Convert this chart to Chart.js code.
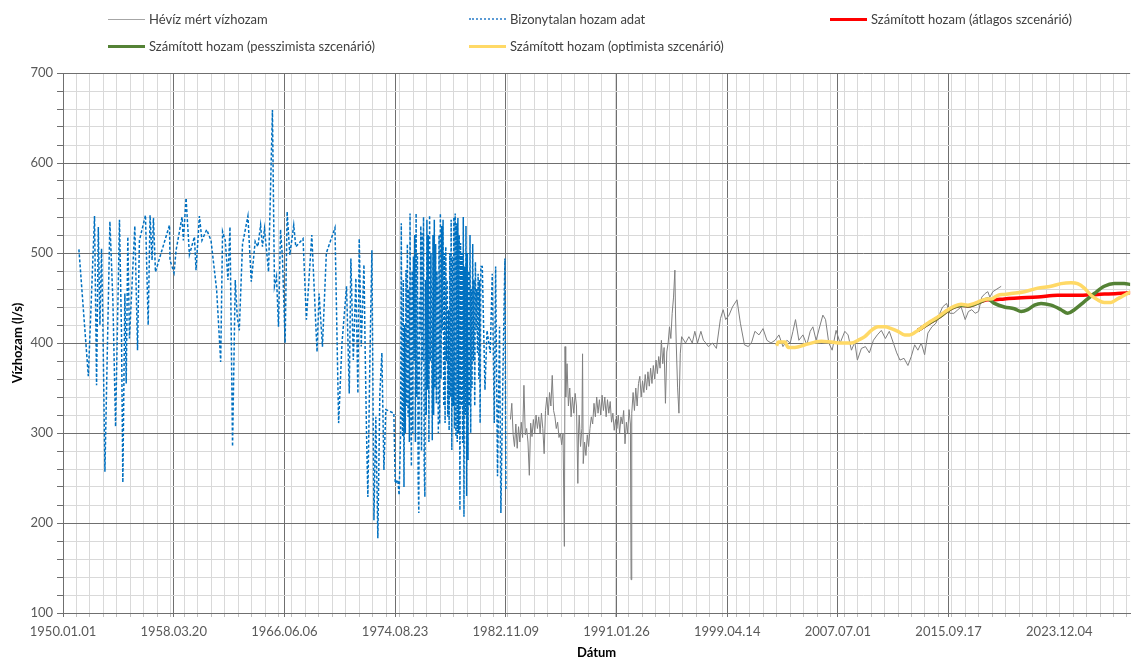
<!DOCTYPE html>
<html>
<head>
<meta charset="utf-8">
<script src="https://cdn.jsdelivr.net/npm/chart.js@4.4.1/dist/chart.umd.min.js"></script>
<style>
  body { margin:0; background:#fff; }
  #wrap { position:relative; width:1134px; height:659px; font-family:Lato, "Liberation Sans", sans-serif; }
  #c { position:absolute; left:0; top:0; }
  .lg { position:absolute; display:flex; align-items:center; font-size:13px; color:#404040; white-space:nowrap; }
  .lg i { display:inline-block; width:37px; margin-right:4px; }
</style>
</head>
<body>
<div id="wrap">
  <canvas id="c" width="1134" height="659"></canvas>
  <div id="legend"></div>
</div>
<script>
// uncertain data (blue dotted) - decimal years / l/s
var blueYears = [1951.18,1951.88,1952.34,1952.49,1952.62,1952.74,1952.86,1952.96,1953.11,1953.48,1953.70,1953.90,1954.19,1954.34,1954.44,1954.59,1954.69,1954.81,1954.93,1955.33,1955.53,1955.67,1956.12,1956.32,1956.46,1956.61,1956.71,1956.86,1957.90,1957.94,1958.24,1958.39,1958.83,1958.93,1959.13,1959.38,1959.75,1959.87,1960.12,1960.31,1960.66,1960.98,1961.40,1961.70,1961.84,1962.04,1962.24,1962.39,1962.58,1962.78,1962.93,1963.08,1963.32,1963.72,1963.97,1964.26,1964.46,1964.66,1964.80,1964.95,1965.25,1965.54,1965.69,1965.84,1965.99,1966.14,1966.28,1966.48,1966.63,1966.83,1967.12,1967.27,1967.81,1968.06,1968.46,1968.85,1969.00,1969.25,1969.54,1970.18,
  1970.45,1970.70,1971.04,1971.24,1971.36,1971.54,1971.73,1971.88,1971.98,1972.13,1972.33,1972.42,1972.52,1972.62,1972.77,1972.92,1973.07,1973.21,1973.36,1973.51,1973.66,1973.81,1973.95,1974.55,1974.65,1974.84,1974.94,
  1975.05,1975.10,1975.15,1975.20,1975.25,1975.30,1975.35,1975.40,1975.45,1975.50,1975.55,1975.60,1975.65,1975.70,1975.75,1975.80,1975.85,1975.90,1975.95,1976.00,1976.05,1976.10,1976.15,1976.20,1976.25,1976.30,1976.35,1976.40,1976.45,1976.50,1976.55,1976.60,1976.65,1976.70,1976.75,1976.80,1976.85,1976.90,1976.95,1977.00,1977.05,1977.10,1977.15,1977.20,1977.25,1977.30,1977.35,1977.40,1977.45,1977.50,1977.55,1977.60,1977.65,1977.70,1977.75,1977.80,1977.85,1977.90,1977.95,1978.00,1978.05,1978.10,1978.15,1978.20,1978.25,1978.30,1978.35,1978.40,1978.45,1978.50,1978.55,1978.60,1978.65,1978.70,1978.75,1978.80,1978.85,1978.90,1978.95,1979.00,1979.05,1979.10,1979.15,1979.20,1979.25,1979.30,1979.35,1979.40,1979.45,1979.50,1979.55,1979.60,1979.65,1979.70,1979.75,1979.80,1979.85,1979.90,1979.95,1980.00,1980.05,1980.10,1980.15,1980.20,1980.25,1980.30,1980.35,1980.40,1980.45,1980.50,1980.55,1980.60,1980.65,1980.70,1980.75,1980.80,1980.85,1980.90,1980.95,1981.00,
  1981.11,1981.31,1981.46,1981.70,1981.85,1982.00,1982.10,1982.24,1982.39,1982.49,1982.64,1982.79,1982.86];
var blueVals = [504,363,541,353,529,420,505,420,257,535,448,307,537,411,245,455,355,518,405,530,392,514,542,420,542,492,539,479,531,492,478,503,540,514,561,498,518,481,541,514,526,514,459,379,524,514,470,529,285,470,429,414,510,541,468,513,507,531,507,527,479,659,463,474,418,526,496,400,546,498,531,507,516,426,520,390,455,396,500,528,
  311,400,463,344,494,381,472,344,516,396,487,392,300,229,381,503,203,318,183,344,389,259,326,322,244,248,231,
  300,533,320,296,470,240,420,300,481,330,510,318,460,290,544,350,263,480,300,496,380,520,290,544,340,500,250,211,450,411,530,280,522,380,540,260,229,470,320,537,348,520,290,542,380,500,414,292,520,320,537,350,510,333,480,437,300,520,310,544,360,530,414,537,330,500,311,507,380,470,318,437,303,500,340,537,281,496,330,540,305,544,296,533,290,539,300,520,214,511,330,500,289,540,207,485,320,530,230,500,270,480,330,520,300,460,350,510,380,470,330,490,414,460,389,477,360,470,311,485,
  485,348,414,389,477,311,485,252,418,211,363,494,237];

// measured discharge (grey)
var grayYears = [1983.20,1983.30,1983.40,1983.50,1983.60,1983.70,1983.80,1983.90,1984.00,1984.10,1984.20,1984.30,1984.40,1984.50,1984.60,1984.70,1984.80,1984.90,1985.00,1985.10,1985.20,1985.30,1985.40,1985.50,1985.60,1985.70,1985.80,1985.90,1986.00,1986.10,1986.20,1986.30,1986.40,1986.50,1986.60,1986.70,1986.80,1986.90,1987.00,1987.10,1987.20,1987.25,1987.30,1987.40,1987.50,1987.60,1987.70,1987.80,1987.90,1988.00,1988.10,1988.20,1988.25,1988.30,1988.40,1988.50,1988.55,1988.60,1988.70,1988.80,1988.90,1989.00,1989.10,1989.20,1989.30,1989.40,1989.50,1989.60,1989.70,1989.80,1989.90,1990.00,1990.10,1990.20,1990.30,1990.40,1990.50,1990.60,1990.70,1990.80,1990.90,1991.00,1991.10,1991.20,1991.30,1991.40,1991.50,1991.60,1991.70,1991.80,1991.90,1992.00,1992.10,1992.15,1992.20,1992.30,1992.40,1992.50,1992.60,1992.70,1992.80,1992.90,1993.00,1993.10,1993.20,1993.30,1993.40,1993.50,1993.60,1993.70,1993.80,1993.90,1994.00,1994.10,1994.20,1994.30,1994.40,1994.50,1994.60,1994.70,1994.80,1994.90,1995.00,1995.10,1995.20,1995.30,1995.40,1995.45,1995.50,1995.60,1995.70,1995.80,1995.90,1996.19,1996.44,1996.69,1996.88,1997.08,1997.33,1997.52,
  1997.64,1997.89,1998.19,1998.48,1998.78,1998.98,1999.17,1999.42,1999.67,2000.01,2000.26,2000.56,2000.85,2001.10,2001.34,2001.64,2001.94,2002.23,2002.53,2002.83,2003.12,2003.42,2003.71,2003.96,2004.16,2004.35,2004.60,2004.90,2005.19,2005.44,2005.64,2005.88,2006.18,2006.38,2006.58,2006.82,2007.07,2007.36,2007.66,2008.01,2008.25,2008.50,2008.75,2008.94,2009.24,2009.54,2009.83,2010.13,2010.42,2010.72,2011.02,2011.31,2011.61,2011.86,2012.10,2012.40,2012.69,2012.94,2013.19,2013.43,2013.68,2013.93,2014.17,2014.47,2014.77,2015.06,2015.26,2015.56,2015.80,2016.10,2016.40,2016.64,2016.94,2017.18,2017.43,2017.68,2017.93,2018.17,2018.42,2018.62,2018.77,2018.99,2019.61];
var grayVals = [315,333,298,285,310,283,307,290,312,295,353,298,305,290,253,311,296,315,300,320,305,318,300,322,305,277,325,340,320,345,330,364,325,318,305,312,295,300,287,300,174,396,340,377,330,350,318,340,322,344,330,244,300,320,285,305,388,266,290,275,298,285,305,318,310,333,318,340,322,337,320,342,325,340,318,337,322,335,312,322,303,315,305,320,300,318,310,325,288,312,300,326,310,137,322,345,325,350,330,355,363,340,358,345,365,348,368,352,372,355,375,360,381,366,385,372,403,377,395,333,390,400,418,405,433,451,481,430,400,351,322,388,407,400,407,400,413,400,413,403,
  401,396,400,394,427,437,426,431,440,448,422,398,396,401,413,409,416,403,400,403,409,396,403,400,413,426,403,409,398,413,418,403,420,431,426,400,392,414,400,413,409,392,401,381,394,396,389,403,409,414,405,413,400,389,381,383,375,385,398,392,400,387,411,418,422,433,440,444,433,433,437,440,426,435,437,433,435,451,455,457,451,457,463];

// scenarios
var avgYears = [2013.43,2014.17,2014.92,2015.66,2016.15,2016.64,2017.14,2017.63,2018.12,2018.62,2018.87,2019.85,2020.84,2022.32,2023.80,2025.28,2026.76,2028.24,2029.23];
var avgVals  = [414,421,428,436,440,442,441,443,446,448,448,449,450,451,453,453,454,455,456];
var pessYears = [2013.43,2014.17,2014.92,2015.66,2016.15,2016.64,2017.14,2017.63,2018.12,2018.62,2019.11,2019.85,2020.59,2021.09,2021.58,2022.08,2022.57,2023.31,2024.05,2024.54,2025.04,2025.78,2026.52,2027.26,2028.00,2028.74,2029.23];
var pessVals  = [414,421,428,436,440,442,441,443,446,449,444,440,438,435,437,442,444,442,437,433,437,446,455,463,466,466,465];
var optYears = [2002.95,2003.07,2003.57,2003.81,2004.31,2005.05,2005.79,2006.28,2007.02,2007.76,2008.50,2008.99,2009.49,2009.98,2010.47,2010.97,2011.46,2011.95,2012.45,2012.82,2013.43,2014.17,2014.92,2015.66,2016.15,2016.64,2017.14,2017.63,2018.12,2018.62,2018.87,2019.36,2019.85,2020.35,2021.34,2022.32,2023.31,2024.05,2024.79,2025.28,2025.78,2026.27,2026.76,2027.26,2027.75,2028.24,2028.74,2029.23];
var optVals  = [397,401,401,395,395,398,401,402,401,400,400,403,407,414,418,418,416,413,409,409,414,422,429,437,441,443,442,444,447,449,449,453,454,455,457,461,463,466,467,466,461,453,448,445,445,449,453,457];

var labels = ['Hévíz mért vízhozam','Bizonytalan hozam adat','Számított hozam (átlagos szcenárió)','Számított hozam (pesszimista szcenárió)','Számított hozam (optimista szcenárió)'];

var xMajor = [0,3000,6000,9000,12000,15000,18000,21000,24000,27000];
var xMinorStep = 365;
var xMax = 28920;

function toPts(ys, vs){
  return ys.map(function(y,i){ return {x:(y-1950)*365.25, y:vs[i]}; });
}
function pad(n){ return n<10 ? '0'+n : ''+n; }
function fmtDate(days){
  var d = new Date(Date.UTC(1950,0,1) + Math.round(days)*86400000);
  return d.getUTCFullYear()+'.'+pad(d.getUTCMonth()+1)+'.'+pad(d.getUTCDate());
}

var xTicks = xMajor.slice();
for (var v = xMinorStep; v <= xMax; v += xMinorStep) if (xTicks.indexOf(v) < 0) xTicks.push(v);
xTicks.sort(function(a,b){return a-b;});

var MAJ = '#6f6f6f', MIN = '#d9d9d9';
var font = {family:'Lato, "Liberation Sans", sans-serif', size:13};

var datasets = [
  {label:labels[0], data:toPts(grayYears,grayVals), borderColor:'#7f7f7f', borderWidth:1, order:5, legend:{w:1,style:'solid',c:'#a6a6a6'}},
  {label:labels[1], data:toPts(blueYears,blueVals), borderColor:'#0070c0', borderWidth:1.5, borderDash:[3,2], order:4, legend:{w:2,style:'dotted',c:'#5b9bd5'}},
  {label:labels[2], data:toPts(avgYears,avgVals), borderColor:'#ff0000', borderWidth:3.5, cubicInterpolationMode:'monotone', order:3, legend:{w:3,style:'solid',c:'#ff0000'}},
  {label:labels[3], data:toPts(pessYears,pessVals), borderColor:'#548235', borderWidth:3.5, cubicInterpolationMode:'monotone', order:2, legend:{w:3,style:'solid',c:'#548235'}},
  {label:labels[4], data:toPts(optYears,optVals), borderColor:'#ffd966', borderWidth:3.5, cubicInterpolationMode:'monotone', order:1, legend:{w:3,style:'solid',c:'#ffd966'}}
];
datasets.forEach(function(d){ d.pointRadius = 0; d.fill = false; });

var chart = new Chart(document.getElementById('c'), {
  type:'line',
  data:{datasets:datasets},
  options:{
    responsive:false, animation:false,
    layout:{padding:{top:73, right:1, left:0, bottom:0}},
    plugins:{legend:{display:false}, tooltip:{enabled:false}},
    scales:{
      x:{
        type:'linear', min:0, max:xMax,
        afterBuildTicks:function(s){ s.ticks = xTicks.map(function(v){return {value:v};}); },
        afterFit:function(s){ s.height = 46; },
        grid:{ color:function(c){ return (c.tick && c.tick.value % 3000 === 0) ? MAJ : MIN; }, tickLength:4,
               tickColor:function(c){ return (c.tick && c.tick.value % 3000 === 0) ? MAJ : '#bfbfbf'; } },
        border:{color:MAJ},
        ticks:{ autoSkip:false, maxRotation:0, minRotation:0, padding:7, color:'#595959', font:font,
                callback:function(v){ return v % 3000 === 0 ? fmtDate(v) : ''; } },
        title:{ display:true, text:'Dátum', color:'#000', font:{family:font.family, size:13, weight:'bold', lineHeight:1}, padding:{top:0,bottom:0} }
      },
      y:{
        min:100, max:700,
        afterFit:function(s){ s.width = 63; },
        grid:{ color:function(c){ return (c.tick && c.tick.value % 100 === 0) ? MAJ : MIN; }, tickLength:6,
               tickColor:MAJ },
        border:{color:MAJ},
        ticks:{ stepSize:20, autoSkip:false, padding:4, color:'#595959', font:font,
                callback:function(v){ return v % 100 === 0 ? v : ''; } },
        title:{ display:true, text:'Vízhozam (l/s)', color:'#000', font:{family:font.family, size:13, weight:'bold', lineHeight:1}, padding:{top:11,bottom:0} }
      }
    }
  }
});

// legend laid out like the original (3 columns, 2 rows)
var pos = [[108,19],[469,19],[830,19],[108,46],[469,46]];
var lg = document.getElementById('legend');
datasets.forEach(function(d,i){
  var el = document.createElement('div');
  el.className = 'lg';
  el.style.left = pos[i][0]+'px';
  el.style.top = (pos[i][1]-9)+'px';
  el.style.height = '18px';
  var ln = document.createElement('i');
  ln.style.borderTop = d.legend.w+'px '+d.legend.style+' '+d.legend.c;
  el.appendChild(ln);
  el.appendChild(document.createTextNode(d.label));
  lg.appendChild(el);
});
</script>
</body>
</html>
